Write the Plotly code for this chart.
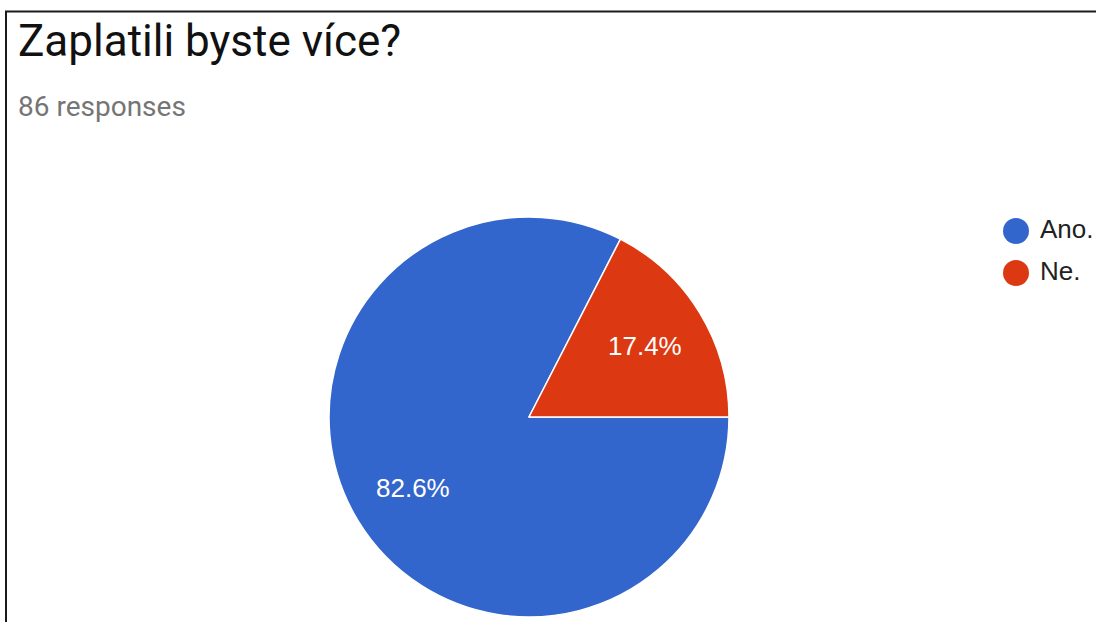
import math
import plotly.graph_objects as go

# ---- data ----
title_text = "Zaplatili byste více?"
subtitle_text = "86 responses"
labels = ["Ano.", "Ne."]
counts = [71, 15]
colors = ["#3366CC", "#DC3912"]

W, H = 1096, 622


def px_x(x):
    return x / W


def px_y(y):
    return 1 - y / H


# pie geometry (pixels)
CX, CY, R = 529, 417, 200
START_ANGLE = 90  # degrees clockwise from 12 o'clock
LABEL_RFRAC = 0.68

fig = go.Figure()

fig.add_trace(go.Pie(
    labels=labels,
    values=counts,
    sort=False,
    direction="clockwise",
    rotation=START_ANGLE,
    marker=dict(colors=colors, line=dict(color="white", width=1.5)),
    textinfo="none",
    domain=dict(x=[px_x(CX - R), px_x(CX + R)], y=[px_y(CY + R), px_y(CY - R)]),
    showlegend=False,
    hoverinfo="label+value+percent",
))

# slice labels placed along each slice's mid-angle (derived from the values)
total = sum(counts)
annotations = []
cum = 0
for v in counts:
    mid = START_ANGLE + 360 * (cum + v / 2) / total
    cum += v
    a = math.radians(mid)
    lx = CX + LABEL_RFRAC * R * math.sin(a)
    ly = CY - LABEL_RFRAC * R * math.cos(a)
    annotations.append(dict(
        text=f"{100 * v / total:.1f}%", x=px_x(lx), y=px_y(ly),
        xref="paper", yref="paper", xanchor="center", yanchor="middle",
        showarrow=False,
        font=dict(family="Liberation Sans, Arial", size=26, color="white"),
    ))

# custom legend (circles) on a hidden pixel-scaled axis
idx = list(range(len(labels)))
fig.add_trace(go.Scatter(
    x=[16] * len(labels), y=idx, mode="markers",
    marker=dict(size=26, color=colors, line=dict(width=0)),
    xaxis="x2", yaxis="y2", showlegend=False, hoverinfo="skip",
))
fig.add_trace(go.Scatter(
    x=[40] * len(labels), y=idx, mode="text", text=labels,
    textposition="middle right",
    textfont=dict(family="Liberation Sans, Arial", size=26, color="#222222"),
    xaxis="x2", yaxis="y2", showlegend=False, hoverinfo="skip",
))

annotations += [
    dict(text=title_text, x=px_x(16), y=px_y(13), xref="paper", yref="paper",
         xanchor="left", yanchor="top", showarrow=False,
         font=dict(family="Roboto", size=44, color="#111111")),
    dict(text=subtitle_text, x=px_x(16), y=px_y(88), xref="paper", yref="paper",
         xanchor="left", yanchor="top", showarrow=False,
         font=dict(family="Roboto", size=28, color="#757575")),
]

fig.update_layout(
    width=W, height=H,
    margin=dict(l=0, r=0, t=0, b=0),
    paper_bgcolor="white",
    plot_bgcolor="rgba(0,0,0,0)",
    xaxis=dict(visible=False),
    yaxis=dict(visible=False),
    xaxis2=dict(domain=[px_x(1000), 1], range=[0, 96], visible=False, fixedrange=True),
    yaxis2=dict(domain=[px_y(294), px_y(210)], range=[1.5, -0.5], visible=False, fixedrange=True),
    annotations=annotations,
    shapes=[
        dict(type="line", xref="paper", yref="paper", x0=px_x(6), x1=px_x(6),
             y0=px_y(11), y1=0, line=dict(color="#1a1a1a", width=2)),
        dict(type="line", xref="paper", yref="paper", x0=px_x(5), x1=1,
             y0=px_y(11.5), y1=px_y(11.5), line=dict(color="#1a1a1a", width=2)),
    ],
)

fig.write_html("out.html")
